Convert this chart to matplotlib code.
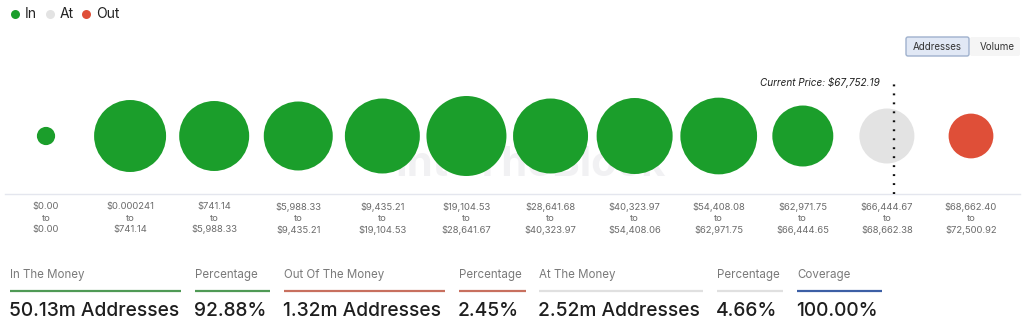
import matplotlib
matplotlib.use("Agg")
import matplotlib.pyplot as plt
from matplotlib.patches import FancyBboxPatch
import numpy as np

plt.rcParams["font.family"] = ["Inter", "DejaVu Sans"]

# Price buckets (low, high) and addresses per bucket, in millions
range_low = ["$0.00", "$0.000241", "$741.14", "$5,988.33", "$9,435.21", "$19,104.53",
             "$28,641.68", "$40,323.97", "$54,408.08", "$62,971.75", "$66,444.67", "$68,662.40"]
range_high = ["$0.00", "$741.14", "$5,988.33", "$9,435.21", "$19,104.53", "$28,641.67",
              "$40,323.97", "$54,408.06", "$62,971.75", "$66,444.65", "$68,662.38", "$72,500.92"]
addresses_m = [0.0001, 5.37, 4.98, 4.79, 5.98, 7.08, 5.98, 6.20, 6.35, 3.40, 2.52, 1.32]
status = ["in"] * 10 + ["at", "out"]

current_price = 67752.19
at_low, at_high = 66444.67, 68662.38

summary_labels = ["In The Money", "Percentage", "Out Of The Money", "Percentage",
                  "At The Money", "Percentage", "Coverage"]
summary_values = ["50.13m Addresses", "92.88%", "1.32m Addresses", "2.45%",
                  "2.52m Addresses", "4.66%", "100.00%"]

COLORS = {"in": "#1b9e2b", "at": "#e3e3e3", "out": "#df4f38"}

W, H, DPI = 1024, 324, 100
fig = plt.figure(figsize=(W / DPI, H / DPI), dpi=DPI)
fig.patch.set_facecolor("white")

# Overlay in pixel coordinates for the page furniture
ov = fig.add_axes([0, 0, 1, 1], zorder=0)
ov.set_xlim(0, W)
ov.set_ylim(H, 0)
ov.axis("off")

# Bubble axes: one column per price bucket
step = 84.09
x0 = 46
top_px, bot_px = 78, 194
ax = fig.add_axes([0, (H - bot_px) / H, 1, (bot_px - top_px) / H], zorder=2)
ax.patch.set_alpha(0)
ax.set_xlim(-x0 / step, (W - x0) / step)
ax.set_ylim(-1, 1)

xs = np.arange(len(addresses_m))
diam_px = 18 + 23.3 * np.sqrt(np.array(addresses_m))
sizes = (diam_px * 72 / DPI) ** 2
ax.scatter(xs, np.zeros_like(xs, dtype=float), s=sizes,
           c=[COLORS[s] for s in status], linewidths=0, zorder=3)

# Current price marker inside the "at the money" bucket
at_idx = status.index("at")
price_x = at_idx - 0.5 + (current_price - at_low) / (at_high - at_low)
ax.axvline(price_x, color="#111111", lw=1.7, ls=(0, (0.8, 3.0)), zorder=4)
fig.text(880 / W, 1 - 83 / H, f"Current Price: ${current_price:,.2f}",
         ha="right", va="center", fontsize=7.2, style="italic", color="#222222")

for sp in ["top", "left", "right"]:
    ax.spines[sp].set_visible(False)
ax.spines["bottom"].set_color("#e4e6ee")
ax.spines["bottom"].set_linewidth(1)
ax.spines["bottom"].set_bounds(-41 / step, (1020 - x0) / step)
ax.set_yticks([])
ax.set_xticks(xs)
ax.set_xticklabels([f"{lo}\nto\n{hi}" for lo, hi in zip(range_low, range_high)],
                   fontsize=6.8, color="#6b6b6b", linespacing=1.32)
ax.tick_params(axis="x", length=0, pad=6.0)

# Faint watermark
ov.text(530, 165, "IntoTheBlock", fontsize=30, color="#f1f1f3", ha="center",
        va="center", fontweight="bold", zorder=1)

# Legend
for cx, key, tx, lab in [(15, "in", 25, "In"), (50, "at", 60, "At"), (86, "out", 96, "Out")]:
    ov.scatter([cx], [14], s=(9 * 72 / DPI) ** 2, color=COLORS[key], linewidths=0)
    ov.text(tx, 14.5, lab, fontsize=10, va="center", ha="left", color="#222222")

# Addresses / Volume toggle
ov.add_patch(FancyBboxPatch((970, 37), 50, 19, boxstyle="round,pad=0,rounding_size=2",
                            fc="#f5f5f5", ec="none"))
ov.add_patch(FancyBboxPatch((906, 37), 63, 19, boxstyle="round,pad=0,rounding_size=2",
                            fc="#e1e8f5", ec="#9fb1cd", lw=1))
ov.text(937.5, 46.5, "Addresses", fontsize=7, ha="center", va="center", color="#333333")
ov.text(997.5, 46.5, "Volume", fontsize=7, ha="center", va="center", color="#333333")

# Summary row
seg_x = [(10, 181), (195, 270), (284, 445), (459, 526), (539, 703), (717, 783), (797, 882)]
seg_c = ["#4f9a55", "#4f9a55", "#c8705f", "#c8705f", "#e0e0e0", "#e0e0e0", "#3c5fa5"]
for (xa, xb), col, lab, val in zip(seg_x, seg_c, summary_labels, summary_values):
    ov.text(xa, 275, lab, fontsize=8.3, color="#7a7a7a", ha="left", va="center")
    ov.plot([xa, xb], [290.5, 290.5], color=col, lw=1.6, solid_capstyle="butt")
    ov.text(xa - 1, 311, val, fontsize=13.8, color="#1e1e1e", ha="left", va="center",
            fontweight="medium")

fig.savefig("out.png", dpi=DPI, facecolor="white")
